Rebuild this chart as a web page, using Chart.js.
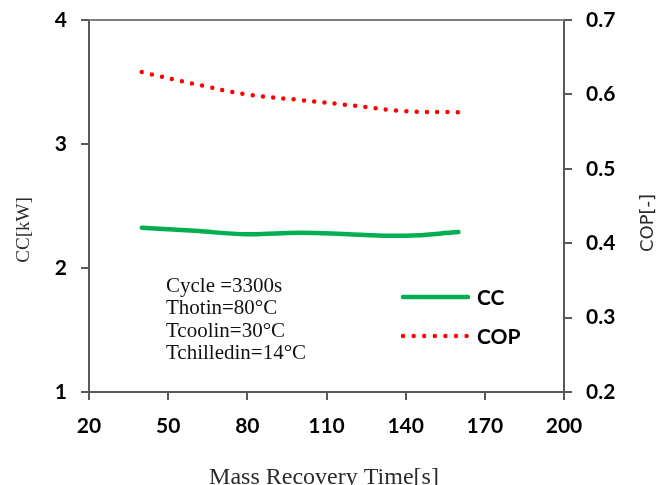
<!DOCTYPE html>
<html><head><meta charset="utf-8">
<script src="https://cdn.jsdelivr.net/npm/chart.js@4/dist/chart.umd.min.js"></script>
<style>html,body{margin:0;padding:0;background:#fff}#wrap{width:660px;height:485px}</style>
</head><body><div id="wrap"><canvas id="c" width="660" height="485"></canvas></div>
<script>
const massRecoveryTime = [40, 60, 80, 100, 120, 140, 160];
const ccValues = [2.325, 2.30, 2.272, 2.285, 2.27, 2.26, 2.29];
const copValues = [0.630, 0.614, 0.600, 0.5925, 0.585, 0.5775, 0.576];
const xTicks = [20, 50, 80, 110, 140, 170, 200];
const ccTicks = [1, 2, 3, 4];
const copTicks = [0.2, 0.3, 0.4, 0.5, 0.6, 0.7];
const seriesNames = ['CC', 'COP'];
const noteLines = ['Cycle =3300s', 'Thotin=80°C', 'Tcoolin=30°C', 'Tchilledin=14°C'];
const xTitle = 'Mass Recovery Time[s]';
const yTitle = 'CC[kW]';
const y1Title = 'COP[-]';

const AXIS = '#595959';
const GREEN = '#00B050';
const RED = '#FF0000';
const tickFont = {family: 'Lato', weight: 'bold', size: 21};

function axisCommon(extra) {
  return Object.assign({
    ticks: {font: tickFont, color: '#000', padding: 14, maxRotation: 0, autoSkip: false},
    grid: {drawOnChartArea: false, drawTicks: true, tickLength: 8, color: AXIS, lineWidth: 2},
    border: {color: AXIS, width: 2}
  }, extra);
}

const overlay = {
  id: 'overlay',
  afterDraw(chart) {
    const ctx = chart.ctx, a = chart.chartArea;
    ctx.save();
    // top frame line
    ctx.strokeStyle = '#7f7f7f'; ctx.lineWidth = 2;
    ctx.beginPath(); ctx.moveTo(a.left, a.top); ctx.lineTo(a.right, a.top); ctx.stroke();

    // notes
    ctx.fillStyle = '#111';
    ctx.font = '21px "Liberation Serif"';
    ctx.textAlign = 'left'; ctx.textBaseline = 'alphabetic';
    noteLines.forEach((t, i) => ctx.fillText(t, 166, 292 + i * 22.4));

    // legend
    ctx.lineWidth = 4.5;
    ctx.strokeStyle = GREEN; ctx.lineCap = 'round';
    ctx.beginPath(); ctx.moveTo(403, 297); ctx.lineTo(468, 297); ctx.stroke();
    ctx.strokeStyle = RED; ctx.setLineDash([0, 10.6]);
    ctx.beginPath(); ctx.moveTo(403, 336); ctx.lineTo(470, 336); ctx.stroke();
    ctx.setLineDash([]);
    ctx.fillStyle = '#000';
    ctx.font = 'bold 21px Lato';
    ctx.textBaseline = 'middle';
    ctx.fillText(seriesNames[0], 477, 298);
    ctx.fillText(seriesNames[1], 477, 337);

    // axis titles
    ctx.fillStyle = '#2b2b2b';
    ctx.textAlign = 'center';
    ctx.textBaseline = 'alphabetic';
    ctx.font = '24px "Liberation Serif"';
    ctx.fillText(xTitle, 324, 484);

    ctx.save();
    ctx.translate(29, 230);
    ctx.rotate(-Math.PI / 2);
    ctx.font = '19px "Liberation Serif"';
    ctx.fillText(yTitle, 0, 0);
    ctx.restore();

    ctx.save();
    ctx.translate(653, 223);
    ctx.rotate(-Math.PI / 2);
    ctx.font = '18px "DejaVu Sans"';
    ctx.fillText(y1Title, 0, 0);
    ctx.restore();
    ctx.restore();
  }
};

function fitV(w) {
  return s => { s.width = w; s.paddingTop = 0; s.paddingBottom = 0; };
}

new Chart(document.getElementById('c'), {
  type: 'line',
  data: {
    datasets: [
      {
        label: seriesNames[0],
        data: massRecoveryTime.map((x, i) => ({x, y: ccValues[i]})),
        yAxisID: 'y',
        borderColor: GREEN, borderWidth: 4.5, borderCapStyle: 'round',
        pointRadius: 0, tension: 0.4, fill: false
      },
      {
        label: seriesNames[1],
        data: massRecoveryTime.map((x, i) => ({x, y: copValues[i]})),
        yAxisID: 'y1',
        borderColor: RED, borderWidth: 4.5, borderCapStyle: 'round',
        borderDash: [0, 10.3],
        pointRadius: 0, tension: 0.4, fill: false
      }
    ]
  },
  options: {
    responsive: false,
    animation: false,
    devicePixelRatio: 1,
    layout: {padding: {top: 20, left: 0, right: 0, bottom: 0}},
    plugins: {legend: {display: false}, tooltip: {enabled: false}},
    scales: {
      x: axisCommon({
        type: 'linear', position: 'bottom', min: 20, max: 200,
        afterBuildTicks: s => { s.ticks = xTicks.map(v => ({value: v})); },
        afterFit: s => { s.height = 93; s.paddingLeft = 0; s.paddingRight = 0; }
      }),
      y: axisCommon({
        type: 'linear', position: 'left', min: 1, max: 4,
        afterBuildTicks: s => { s.ticks = ccTicks.map(v => ({value: v})); },
        afterFit: fitV(89)
      }),
      y1: axisCommon({
        type: 'linear', position: 'right', min: 0.2, max: 0.7,
        afterBuildTicks: s => { s.ticks = copTicks.map(v => ({value: v})); },
        ticks: {font: tickFont, color: '#000', padding: 14, callback: v => Number(v).toFixed(1)},
        afterFit: fitV(96)
      })
    }
  },
  plugins: [overlay]
});
</script>
</body></html>
